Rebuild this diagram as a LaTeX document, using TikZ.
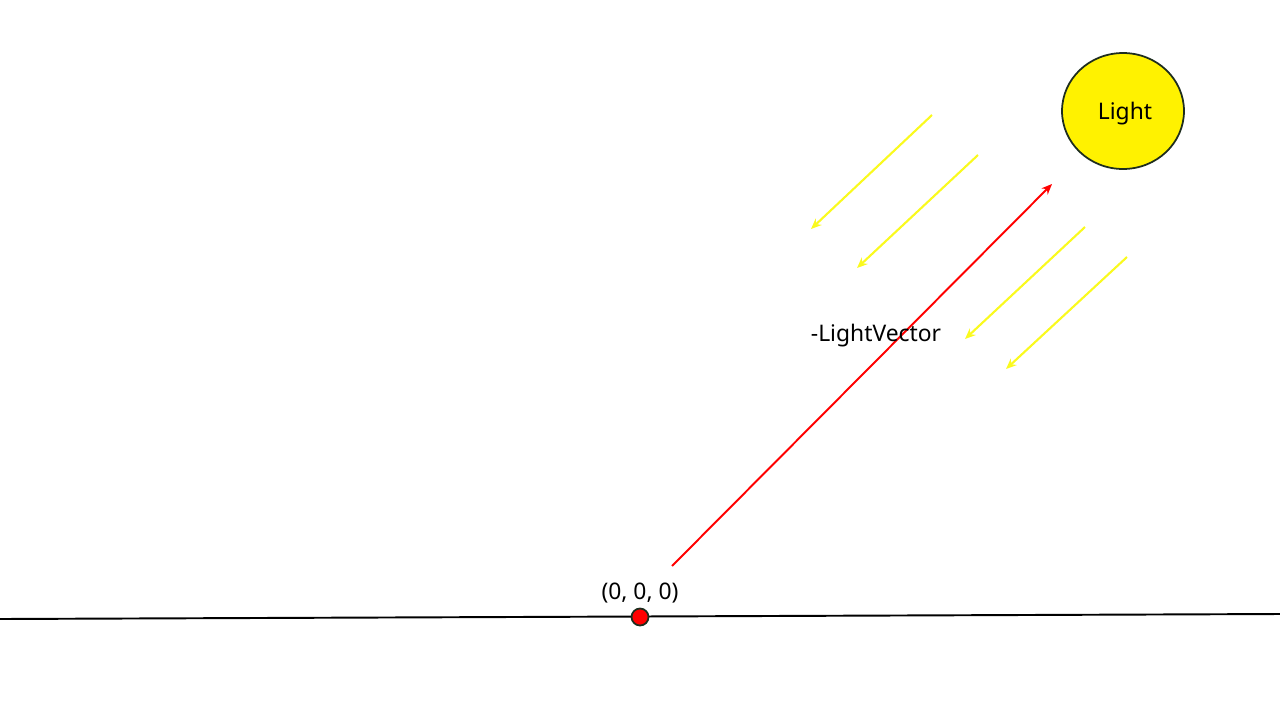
\documentclass[tikz,border=0pt]{standalone}
\usepackage{fontspec}
\setmainfont{Noto Sans}
\usepackage{xcolor}
\usetikzlibrary{calc,arrows.meta,shapes.geometric}

\definecolor{rim}{RGB}{30,45,30}
\definecolor{ray}{RGB}{250,250,30}

\begin{document}
\begin{tikzpicture}[x=0.02cm,y=-0.02cm]
        \tikzstyle{rayline}=[draw=ray,line width=1.2pt,-{Stealth[length=6pt,width=5pt]}]
        \useasboundingbox (0,0) rectangle (1280,720);

        \coordinate (g1) at (0,619);
        \coordinate (g2) at (1280,614);
        \draw[line width=1.1pt] (g1) to (g2);

        \node[draw=rim,fill=yellow,ellipse,minimum width=2.44cm,minimum height=2.32cm,inner sep=0pt,line width=1pt] (light) at (1123,111) {};
        \node[font=\fontsize{13}{15}\selectfont] (ltext) at (1125,114) {Light};

        \coordinate (v1) at (672,566);
        \coordinate (v2) at (1052,184);
        \draw[red,line width=1.1pt,-{Stealth[length=6pt,width=5pt]}] (v1) to (v2);
        \node[font=\fontsize{13}{15}\selectfont] (vec) at (876,336) {-LightVector};

        \coordinate (r1) at (932,115);
        \coordinate (r2) at (811,229);
        \coordinate (r3) at (978,155);
        \coordinate (r4) at (857,268);
        \coordinate (r5) at (1085,227);
        \coordinate (r6) at (965,339);
        \coordinate (r7) at (1127,257);
        \coordinate (r8) at (1006,369);
        \draw[rayline] (r1) to (r2);
        \draw[rayline] (r3) to (r4);
        \draw[rayline] (r5) to (r6);
        \draw[rayline] (r7) to (r8);

        \node[draw=rim,fill=red,circle,minimum size=0.34cm,inner sep=0pt,line width=1pt] (origin) at (640,617) {};
        \node[font=\fontsize{13}{15}\selectfont] (olabel) at (640,593) {(0, 0, 0)};
\end{tikzpicture}
\end{document}
